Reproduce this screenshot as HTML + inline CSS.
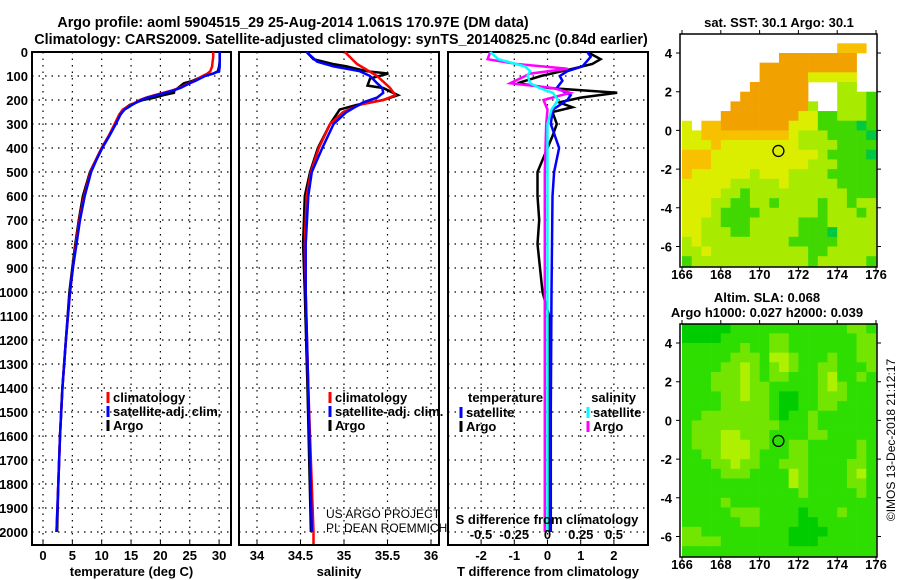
<!DOCTYPE html>
<html><head><meta charset="utf-8"><style>
html,body{margin:0;padding:0;background:#fff;}
svg{display:block;font-family:"Liberation Sans",Arial,sans-serif;}
.b{font-weight:bold;}
</style></head><body>
<svg id="fig" width="900" height="580" viewBox="0 0 900 580" xmlns="http://www.w3.org/2000/svg">
<defs>
<clipPath id="cm1"><rect x="680" y="34" width="197" height="233"/></clipPath>
<clipPath id="cm2"><rect x="680" y="324" width="197" height="233"/></clipPath>
</defs>
<text class="b" x="293" y="27" font-size="14.3" text-anchor="middle">Argo profile: aoml 5904515_29 25-Aug-2014 1.061S 170.97E (DM data)</text>
<text class="b" x="341" y="44" font-size="14.3" text-anchor="middle">Climatology: CARS2009. Satellite-adjusted climatology: synTS_20140825.nc (0.84d earlier)</text>
<text class="b" x="779" y="27" font-size="13" text-anchor="middle">sat. SST: 30.1 Argo: 30.1</text>
<text class="b" x="767" y="302" font-size="13" text-anchor="middle">Altim. SLA: 0.068</text>
<text class="b" x="767" y="317" font-size="13" text-anchor="middle">Argo h1000: 0.027 h2000: 0.039</text>
<text x="0" y="0" font-size="12" text-anchor="middle" transform="translate(895,440) rotate(-90)">©IMOS 13-Dec-2018 21:12:17</text>
<text x="326" y="518" font-size="12">US ARGO PROJECT</text>
<text x="326" y="532" font-size="12">PI: DEAN ROEMMICH</text>
</svg>
<script>
// ---- profile data ----
const depthLevels = [0,20,40,60,80,90,100,120,130,150,160,170,180,190,200,220,240,260,300,350,400,450,500,600,700,800,900,1000,1200,1400,1600,1800,2000];
const tempArgo = [30.1,30.1,30.1,30.0,29.8,29.0,27.3,25.5,24.0,23.0,22.4,22.3,20.5,19.0,17.0,14.8,13.7,13.2,12.3,11.2,10.0,9.0,8.0,6.8,6.1,5.5,5.0,4.5,3.9,3.3,2.9,2.6,2.4];
const tempClim = [29.0,29.0,28.9,28.8,28.5,28.0,27.2,25.8,24.8,23.2,22.0,20.5,19.0,17.6,16.5,15.0,13.6,13.0,12.2,11.2,10.0,9.0,8.1,7.0,6.2,5.6,5.1,4.6,3.9,3.3,2.9,2.6,2.3];
const tempSat = [30.1,30.1,30.1,30.1,30.0,29.0,27.6,26.0,25.0,23.4,22.2,20.8,19.3,17.8,16.7,15.2,13.9,13.2,12.4,11.3,10.1,9.1,8.2,7.1,6.3,5.7,5.1,4.6,3.9,3.3,2.9,2.6,2.3];
const salDepths = [0,30,50,60,80,90,110,140,150,180,200,220,240,300,400,500,600,800,1000,1400,2000];
const salArgo = [34.57,34.65,34.87,35.03,35.26,35.51,35.30,35.27,35.45,35.62,35.45,35.15,34.95,34.84,34.70,34.61,34.55,34.53,34.55,34.58,34.62];
const salClimDepths = [0,50,100,150,180,200,220,250,300,400,500,600,800,1000,1400,2000,2050];
const salClim = [35.01,35.15,35.38,35.53,35.59,35.45,35.18,34.99,34.84,34.71,34.62,34.57,34.55,34.56,34.59,34.65,34.65];
const salSatDepths = [0,40,60,80,100,130,150,170,190,210,250,300,400,500,600,800,1000,1400,2000];
const salSat = [34.57,34.69,34.88,35.18,35.30,35.38,35.44,35.45,35.38,35.22,35.03,34.88,34.75,34.63,34.59,34.56,34.56,34.59,34.63];
const dTDepths = [0,20,60,80,100,120,150,180,200,240,300,400,500,600,1000,1500,2000];
const dTSat = [1.2,1.3,1.05,0.6,0.37,0.45,0.28,0.7,0.6,0.16,0.1,0.35,0.2,0.15,0.12,0.1,0.1];
const dTArgoDepths = [0,30,50,70,100,130,150,170,190,210,230,250,300,350,400,500,600,700,800,1000,1100,1500,2000];
const dTArgo = [1.2,1.6,1.35,0.75,-0.2,-0.9,0.05,2.1,1.0,0.35,0.75,0.15,0.28,0.15,0.0,-0.3,-0.3,-0.25,-0.3,-0.15,0.05,0.05,0.05];
const dSDepths = [0,30,60,80,100,130,150,170,200,240,300,500,2000];
const dSSat = [-0.43,-0.37,-0.17,-0.13,-0.15,-0.13,-0.06,0.04,0.08,0.03,0.0,0.0,0.0];
const dSArgoDepths = [0,30,50,70,90,130,150,170,200,240,300,500,800,2000];
const dSArgo = [-0.43,-0.45,-0.23,0.15,-0.13,-0.28,0.04,0.17,-0.03,0.0,-0.01,-0.02,-0.02,-0.02];
const depthTicks = [0,100,200,300,400,500,600,700,800,900,1000,1100,1200,1300,1400,1500,1600,1700,1800,1900,2000];
const tempTicks = [0,5,10,15,20,25,30];
const salTicks = [34,34.5,35,35.5,36];
const dTTicks = [-2,-1,0,1,2];
const dSTicks = [-0.5,-0.25,0,0.25,0.5];
// ---- map data (0.5 deg cells, rows from lat 5 southward, cols from lon 166) ----
const sstRows = [
"....................",
"................aaa.",
"..........oooooooo..",
"........oooooooooo..",
"........oooooyyyyy..",
".......oooooo...ll..",
"......ooooooo...lllg",
".....ooooooool..lllg",
"....ooooooooyygglllg",
"y.aaoooooooyyyggggdg",
"yyaaaaaaaaaylllggggd",
"yyyayyyyyyyyllllgggg",
"aaayyyyyyyyyyylggggd",
"aaayyyyyyyyyylllgggg",
"ayyyyyylyyyllllggggg",
"yyyyylllllylllllgggg",
"yyyyllgllllllllllggg",
"yyyllggllgllllgllgll",
"yyylggggllllllglllgl",
"yyllggglllllggglllll",
"yylllgglllllgggdllll",
"lylllllllllgggggllll",
"llyllllllllllgglllll",
"gllllllllllllglllllg",
"gllllllllllllglllllg"];
const slaRows = [
"GGGGGggggggggggggmmg",
"GGGGgggggmmgggggggmm",
"ggggggmggmmgggggggmm",
"gggggmmmgyymgggmggmm",
"ggggmmymgmymggmmgggm",
"gggmmmymgmmgggmyggmg",
"gggmmmymmgggggmymggg",
"ggggmmymmgGGggmmmggg",
"ggggmmmmmgGGggmmgggg",
"ggmmmmmmmgGggmgggggg",
"gmmmmmmmmmgggmgggggg",
"gmmmyymmmggggmmggggg",
"gmmmyyymmggmmgggggmg",
"ggmmyyymgggmmgggggmg",
"gggmmymmggmmmggggmmg",
"ggggmmmggggymggggmyg",
"gggggggggggymggggmmg",
"ggggggggggggmgggggmg",
"ggggmggggggggggggggg",
"gggggmmmggggGgggmggg",
"ggggggmmggggGGgggggg",
"mmgggggggggGGGGggggg",
"mmmmgggggggGGGgggggg",
"gggggggggggggggggggg",
"gggggggggggggggggggg"];
const lonTicks = [166,168,170,172,174,176];
const latTicks = [4,2,0,-2,-4,-6];
const argoLon = [170.97];
const argoLat = [-1.061];

const NS='http://www.w3.org/2000/svg';
const svg=document.getElementById('fig');
function mk(tag,attrs,parent){const e=document.createElementNS(NS,tag);for(const k in attrs)e.setAttribute(k,attrs[k]);(parent||svg).appendChild(e);return e;}
const yD = d => 52 + d*0.24;

function makePanel(name,x0,x1,xScale,ticks,tickFmt,title,showY,gridTicks){
  const g=mk('g',{});
  
  
  depthTicks.forEach(d=>{
    const l=mk('line',{x1:x0,x2:x1,y1:yD(d),y2:yD(d),stroke:'#000','stroke-width':1.2,'stroke-dasharray':'1.5,5'},g);
    
    
    if(showY){
      const t=mk('text',{x:28,y:yD(d)+5,'font-size':13,'text-anchor':'end','font-weight':'bold'},g);
      
      
      t.textContent=d;
    }
  });
  (gridTicks||ticks).forEach(v=>{
    const l=mk('line',{x1:xScale(v),x2:xScale(v),y1:52,y2:545,stroke:'#000','stroke-width':1.2,'stroke-dasharray':'1.5,5'},g);
    
    
  });
  ticks.forEach(v=>{
    const t=mk('text',{x:xScale(v),y:560,'font-size':13,'text-anchor':'middle','font-weight':'bold'},g);
    
    
    t.textContent=tickFmt(v);
    const k=mk('line',{x1:xScale(v),x2:xScale(v),y1:545,y2:541,stroke:'#000','stroke-width':1},g);
    
    
  });
  const tt=mk('text',{x:(x0+x1)/2,y:576,'font-size':13,'text-anchor':'middle','font-weight':'bold'},g);
  
  
  tt.textContent=title;
  const r=mk('rect',{x:x0,y:52,width:x1-x0,height:493,fill:'none',stroke:'#000','stroke-width':2},g);
  
  
  return g;
}
function line(g,depths,vals,xs,color,name,w){
  const pts=depths.map((d,i)=>xs(vals[i]).toFixed(1)+','+yD(d).toFixed(1)).join(' ');
  const p=mk('polyline',{points:pts,fill:'none',stroke:color,'stroke-width':w||2.5,'stroke-linejoin':'miter'},g);
  
  
}
function legend(g,x,y,color,label,name){
  const l=mk('line',{x1:x,x2:x,y1:y-9,y2:y+2,stroke:color,'stroke-width':3},g);
  
  
  if(label){
    const t=mk('text',{x:x+5,y:y+1,'font-size':13,'font-weight':'bold'},g);
    
    
    t.textContent=label;
  }
}
// Temperature panel
const xT=v=>43+5.87*v;
const gT=makePanel('temperature',32,231,xT,tempTicks,v=>v,'temperature (deg C)',true);
line(gT,depthLevels,tempArgo,xT,'#000','argo-temperature-line');
line(gT,depthLevels,tempClim,xT,'#f00','climatology-temperature-line');
line(gT,depthLevels,tempSat,xT,'#00f','satellite-temperature-line');
legend(gT,108,401,'#f00','climatology','legend-climatology');
legend(gT,108,415,'#00f','satellite-adj. clim.','legend-satellite');
legend(gT,108,429,'#000','Argo','legend-argo');
// Salinity panel
const xS=v=>257+87*(v-34);
const gS=makePanel('salinity',239,439,xS,salTicks,v=>v,'salinity',false);
line(gS,salDepths,salArgo,xS,'#000','argo-salinity-line');
line(gS,salClimDepths,salClim,xS,'#f00','climatology-salinity-line');
line(gS,salSatDepths,salSat,xS,'#00f','satellite-salinity-line');
legend(gS,330,401,'#f00','climatology','legend-sal-climatology');
legend(gS,330,415,'#00f','satellite-adj. clim.','legend-sal-satellite');
legend(gS,330,429,'#000','Argo','legend-sal-argo');
// Difference panel
const xDT=v=>547.5+33.2*v;
const xDS=v=>547.5+133*v;
const gD=makePanel('difference',448,648,xDT,dTTicks,v=>v,'T difference from climatology',false);
line(gD,dTArgoDepths,dTArgo,xDT,'#000','argo-t-diff-line');
line(gD,dTDepths,dTSat,xDT,'#00f','satellite-t-diff-line');
line(gD,dSArgoDepths,dSArgo,xDS,'#f0f','argo-s-diff-line');
line(gD,dSDepths,dSSat,xDS,'#0ff','satellite-s-diff-line');
const lt=mk('text',{x:468,y:402,'font-size':13,'font-weight':'bold'},gD);


lt.textContent='temperature';
const ls=mk('text',{x:636,y:402,'font-size':13,'font-weight':'bold','text-anchor':'end'},gD);


ls.textContent='salinity';
legend(gD,461,416,'#00f','satellite','legend-t-satellite');
legend(gD,461,430,'#000','Argo','legend-t-argo');
legend(gD,588,416,'#0ff','satellite','legend-s-satellite');
legend(gD,588,430,'#f0f','Argo','legend-s-argo');
const sTitle=mk('text',{x:547,y:524,'font-size':13,'font-weight':'bold','text-anchor':'middle'},gD);


sTitle.textContent='S difference from climatology';
dSTicks.forEach(v=>{
  const t=mk('text',{x:xDS(v),y:539,'font-size':13,'font-weight':'bold','text-anchor':'middle'},gD);
  
  
  t.textContent=v;
});
// Maps
const sstCol={o:'#f2a200',a:'#f7c000',y:'#dcee00',l:'#a8ea00',g:'#40d800',d:'#00c840'};
const slaCol={G:'#00cc00',g:'#2ede00',m:'#72e600',y:'#aef000'};
function makeMap(name,top,rows,cols,clip){
  const xL=v=>682+19.4*(v-166);
  const yL=v=>top+19+19.35*(4-v);
  const g=mk('g',{});
  
  
  const cg=mk('g',{'clip-path':'url(#'+clip+')'},g);
  rows.forEach((row,i)=>{
    for(let j=0;j<row.length;j++){
      const c=cols[row[j]];
      if(!c)continue;
      const r=mk('rect',{x:xL(166+0.5*j),y:yL(5-0.5*i),width:10,height:10,fill:c},cg);
      
      
    }
  });
  const c=mk('circle',{cx:xL(argoLon[0]),cy:yL(argoLat[0]),r:5.5,fill:'none',stroke:'#000','stroke-width':1.3},g);
  
  
  const fr=mk('rect',{x:680,y:top,width:197,height:233,fill:'none',stroke:'#000','stroke-width':1.5},g);
  
  
  lonTicks.forEach(v=>{
    const t=mk('text',{x:xL(v),y:top+245,'font-size':13,'font-weight':'bold','text-anchor':'middle'},g);
    
    
    t.textContent=v;
    const k=mk('path',{d:'M'+xL(v)+' '+top+'v-4M'+xL(v)+' '+(top+233)+'v4',stroke:'#000','stroke-width':1},g);
    
    
  });
  latTicks.forEach(v=>{
    const t=mk('text',{x:672,y:yL(v)+5,'font-size':13,'font-weight':'bold','text-anchor':'end'},g);
    
    
    t.textContent=v;
    const k=mk('path',{d:'M680 '+yL(v)+'h-4M877 '+yL(v)+'h4',stroke:'#000','stroke-width':1},g);
    
    
  });
}
makeMap('sst-map',34,sstRows,sstCol,'cm1');
makeMap('sla-map',324,slaRows,slaCol,'cm2');
</script>
</body></html>
